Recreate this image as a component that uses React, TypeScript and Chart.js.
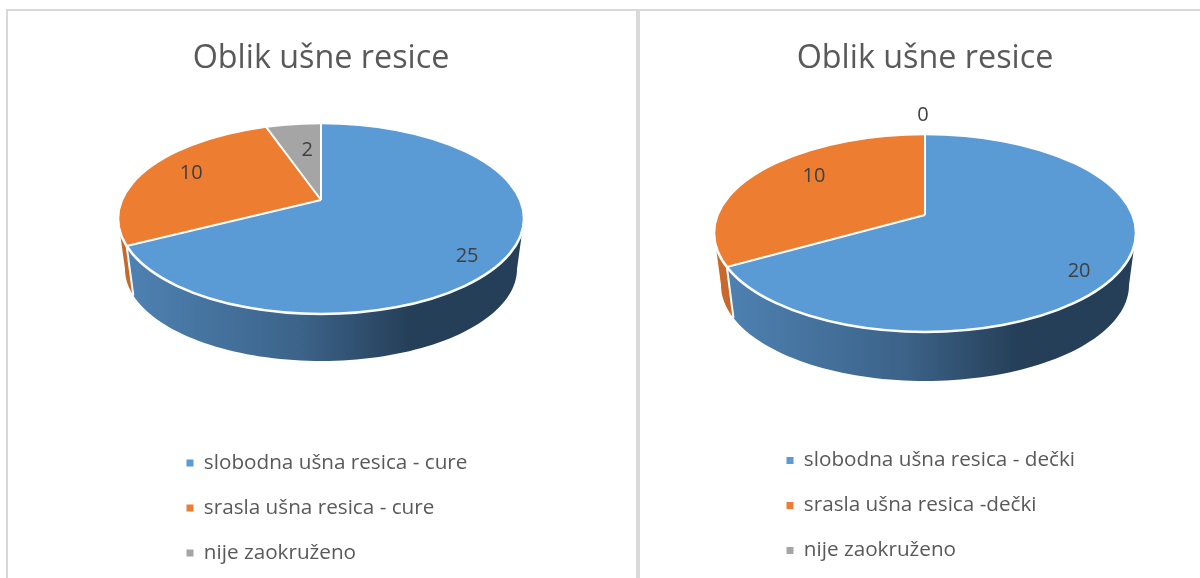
import React, { useEffect, useRef } from "react";
import { Chart, registerables } from "chart.js";

Chart.register(...registerables);

const FONT = "'Open Sans', sans-serif";
const LEGEND_SIZE = 20.7;
const titleText = "Oblik ušne resice";
const sliceColors = ["#5b9bd5", "#ed7d31", "#a5a5a5"];
const wallColors = [
  ["#4f83b4", "#3c6389", "#253f58", "#253f58"],
  ["#c9682b", "#c9682b", "#c9682b", "#c9682b"],
  ["#7c7c7c", "#7c7c7c", "#7c7c7c", "#7c7c7c"],
];
const wallStops = [0, 0.45, 0.72, 1];

const leftLabels = ["slobodna ušna resica - cure", "srasla ušna resica - cure", "nije zaokruženo"];
const leftValues = [25, 10, 2];
const rightLabels = ["slobodna ušna resica - dečki", "srasla ušna resica -dečki", "nije zaokruženo"];
const rightValues = [20, 10, 0];

type Geo = {
  k: number; rx: number; ry: number; dy: number;
  rx2: number; ry2: number; dy2: number;
  nudges: number[][]; legendX: number; legendY: number;
};

const leftGeo: Geo = {
  k: 0.47, rx: 203, ry: 95.5, dy: 18.5, rx2: 196, ry2: 92, dy2: 69,
  nudges: [[5, 15], [-1, -2], [7, 7]], legendX: 178.5, legendY: 453,
};
const rightGeo: Geo = {
  k: 0.455, rx: 211, ry: 99, dy: 18, rx2: 204, ry2: 96, dy2: 70,
  nudges: [[5.5, 17], [13, -6], [-2, -39]], legendX: 136.5, legendY: 450.5,
};

function rayHit(g: Geo, a: number) {
  const dx = Math.cos(a);
  const dy = g.k * Math.sin(a);
  const A = (dx * dx) / (g.rx * g.rx) + (dy * dy) / (g.ry * g.ry);
  const B = (-2 * dy * g.dy) / (g.ry * g.ry);
  const C = (g.dy * g.dy) / (g.ry * g.ry) - 1;
  const s = (-B + Math.sqrt(B * B - 4 * A * C)) / (2 * A);
  const x = s * dx;
  const y = s * dy;
  return { x, y, t: Math.atan2((y - g.dy) / g.ry, x / g.rx) };
}

const pie3d = {
  id: "pie3d",
  afterLayout(chart: any) {
    const g: Geo = chart.options.plugins.pie3d.geo;
    const lg = chart.legend;
    const pad = chart.options.plugins.legend.labels.padding;
    const w = lg.width;
    const h = lg.height;
    lg.left = g.legendX - pad;
    lg.right = lg.left + w;
    lg.top = g.legendY - pad - LEGEND_SIZE / 2;
    lg.bottom = lg.top + h;
  },
  beforeDatasetsDraw(chart: any) {
    const g: Geo = chart.options.plugins.pie3d.geo;
    const ctx = chart.ctx;
    const arcs = chart.getDatasetMeta(0).data;
    const ax = arcs[0].x;
    const ay = arcs[0].y;
    const top = (t: number) => [ax + g.rx * Math.cos(t), ay + g.dy + g.ry * Math.sin(t)];
    const bot = (t: number) => [ax + g.rx2 * Math.cos(t), ay + g.dy2 + g.ry2 * Math.sin(t)];
    ctx.save();
    arcs.forEach((arc: any, i: number) => {
      const tA = rayHit(g, arc.startAngle).t;
      let tB = rayHit(g, arc.endAngle).t;
      if (tB < tA) tB += Math.PI * 2;
      const lo = Math.max(tA, 0);
      const hi = Math.min(tB, Math.PI);
      if (hi <= lo) return;
      const grad = ctx.createLinearGradient(ax - g.rx, 0, ax + g.rx, 0);
      wallColors[i].forEach((c, j) => grad.addColorStop(wallStops[j], c));
      ctx.fillStyle = grad;
      ctx.beginPath();
      const N = 80;
      for (let n = 0; n <= N; n++) {
        const p = top(lo + ((hi - lo) * n) / N);
        if (n === 0) ctx.moveTo(p[0], p[1]); else ctx.lineTo(p[0], p[1]);
      }
      for (let n = N; n >= 0; n--) {
        const p = bot(lo + ((hi - lo) * n) / N);
        ctx.lineTo(p[0], p[1]);
      }
      ctx.closePath();
      ctx.fill();
    });
    ctx.strokeStyle = "#ffffff";
    ctx.lineWidth = 2;
    arcs.forEach((arc: any) => {
      const t = rayHit(g, arc.endAngle).t;
      if (t > 0 && t < Math.PI) {
        const a = top(t);
        const b = bot(t);
        ctx.beginPath();
        ctx.moveTo(a[0], a[1]);
        ctx.lineTo(b[0], b[1]);
        ctx.stroke();
      }
    });
    ctx.save();
    ctx.beginPath();
    ctx.ellipse(ax, ay + g.dy, g.rx, g.ry, 0, 0, Math.PI * 2);
    ctx.clip();
    ctx.translate(ax, ay);
    ctx.scale(1, g.k);
    ctx.translate(-ax, -ay);
  },
  afterDatasetsDraw(chart: any) {
    const g: Geo = chart.options.plugins.pie3d.geo;
    const ctx = chart.ctx;
    ctx.restore();
    const arcs = chart.getDatasetMeta(0).data;
    const ax = arcs[0].x;
    const ay = arcs[0].y;
    ctx.strokeStyle = "#ffffff";
    ctx.lineWidth = 2;
    arcs.forEach((arc: any) => {
      if (arc.circumference === 0) return;
      const h = rayHit(g, arc.endAngle);
      ctx.beginPath();
      ctx.moveTo(ax, ay);
      ctx.lineTo(ax + h.x, ay + h.y);
      ctx.stroke();
    });
    ctx.lineWidth = 2.5;
    ctx.beginPath();
    ctx.ellipse(ax, ay + g.dy, g.rx, g.ry, 0, 0, Math.PI * 2);
    ctx.stroke();
    ctx.fillStyle = "#404040";
    ctx.font = `20px ${FONT}`;
    ctx.textAlign = "center";
    ctx.textBaseline = "middle";
    const values = chart.data.datasets[0].data;
    arcs.forEach((arc: any, i: number) => {
      const mid = (arc.startAngle + arc.endAngle) / 2;
      const h = rayHit(g, mid);
      const n = g.nudges[i];
      ctx.fillText(String(values[i]), ax + 0.75 * h.x + n[0], ay + 0.75 * h.y + n[1]);
    });
    ctx.restore();
  },
};

function Pie({ labels, values, geo, left, width, padBottom }: any) {
  const ref = useRef<HTMLCanvasElement>(null);
  useEffect(() => {
    const chart = new Chart(ref.current as HTMLCanvasElement, {
      type: "pie",
      data: {
        labels,
        datasets: [{ data: values, backgroundColor: sliceColors, borderWidth: 0, radius: 900, clip: false } as any],
      },
      options: {
        responsive: false,
        animation: false,
        events: [],
        layout: { padding: { bottom: padBottom } },
        plugins: {
          title: {
            display: true,
            text: titleText,
            color: "#595959",
            font: { family: FONT, size: 32.3, weight: "normal" },
            padding: { top: 29, bottom: 0 },
          },
          legend: {
            display: true,
            position: "chartArea",
            align: "start",
            labels: {
              boxWidth: 7,
              boxHeight: 7,
              padding: 24.3,
              color: "#595959",
              font: { family: FONT, size: LEGEND_SIZE },
            },
          },
          tooltip: { enabled: false },
          pie3d: { geo },
        },
      } as any,
      plugins: [pie3d as any],
    });
    return () => chart.destroy();
  }, []);
  return (
    <canvas
      ref={ref}
      width={width}
      height={568}
      style={{ position: "absolute", left, top: 10, width, height: 568, display: "block" }}
    />
  );
}

export default function App() {
  const line = "#d9d9d9";
  return (
    <div style={{ position: "fixed", left: 0, top: 0, width: 1200, height: 578, background: "#fff", overflow: "hidden" }}>
      <div style={{ position: "absolute", left: 6, top: 9, width: 1194, height: 2, background: line }} />
      <div style={{ position: "absolute", left: 6, top: 9, width: 2, height: 569, background: line }} />
      <div style={{ position: "absolute", left: 636, top: 9, width: 4, height: 569, background: line }} />
      <Pie labels={leftLabels} values={leftValues} geo={leftGeo} left={8} width={626} padBottom={255.8} />
      <Pie labels={rightLabels} values={rightValues} geo={rightGeo} left={650} width={550} padBottom={225.8} />
    </div>
  );
}
